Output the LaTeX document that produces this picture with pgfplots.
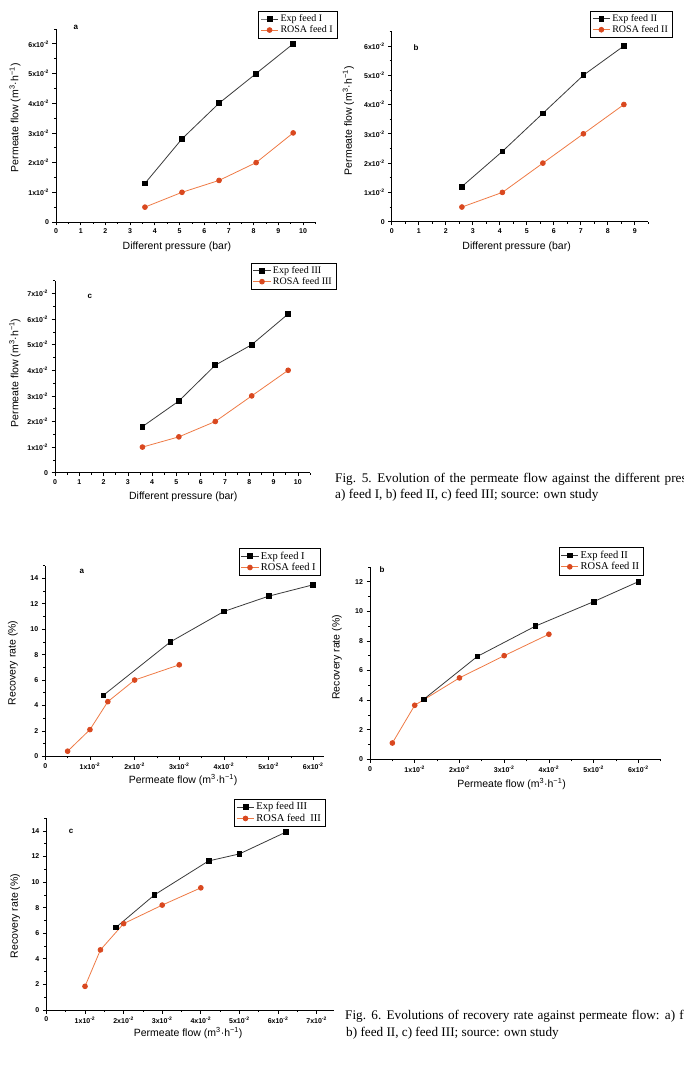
\documentclass[border=0pt]{standalone}
\usepackage{fontspec}
\setmainfont{Liberation Serif}
\setsansfont{Liberation Sans}
\usepackage{pgfplots}
\pgfplotsset{compat=1.18}

\definecolor{expline}{HTML}{3A3A3A}
\definecolor{rosaline}{HTML}{EE7A45}
\definecolor{rosamark}{HTML}{D9481F}

\newcommand{\sci}[1]{#1x10\textsuperscript{-2}}
\newcommand{\labelfont}{\fontsize{10.5}{12}\selectfont\sffamily}

\pgfplotsset{
  panel/.style={
    scale only axis, axis lines*=left, anchor=south west, clip=false,
    axis line style={line width=0.9pt, black},
    tick align=outside, tick style={black, line width=0.7pt},
    major tick length=3.5pt, minor tick length=2pt,
    tick label style={font=\fontsize{7}{8}\selectfont\sffamily\bfseries},
    /pgf/number format/assume math mode=true,
    every axis x label/.style={at={(axis description cs:0.5,-0.13)},anchor=center,font=\labelfont},
    every axis y label/.style={at={(axis description cs:-0.16,0.5)},anchor=center,rotate=90,font=\labelfont},
    legend style={draw=black, anchor=north east, inner xsep=2pt, inner ysep=1.5pt,
      row sep=-1.5pt, font=\fontsize{10}{11}\selectfont\rmfamily},
    legend cell align=left,
  },
  pressure/.style={
    xmin=0, ymin=0, xtick distance=1, minor x tick num=1,
    ytick distance=1, minor y tick num=1,
    yticklabels={\sci{0},0,\sci{1},\sci{2},\sci{3},\sci{4},\sci{5},\sci{6},\sci{7}},
    xlabel={Different pressure (bar)},
    ylabel={Permeate flow (m\textsuperscript{3}·h\textsuperscript{−1})},
  },
  flow/.style={
    xmin=0, ymin=0, xtick distance=1, minor x tick num=1,
    ytick distance=2, minor y tick num=1,
    xticklabels={\sci{0},0,\sci{1},\sci{2},\sci{3},\sci{4},\sci{5},\sci{6},\sci{7}},
    xlabel={Permeate flow (m\textsuperscript{3}·h\textsuperscript{−1})},
    ylabel={Recovery rate (\%)},
  },
  expser/.style={color=expline, line width=0.8pt, mark=square*, mark size=2.4pt,
    mark options={fill=black, draw=black}},
  rosaser/.style={color=rosaline, line width=0.8pt, mark=*, mark size=2.4pt,
    mark options={fill=rosamark, draw=rosamark}},
}
\newcommand{\panellabel}[1]{\fontsize{8}{9}\selectfont\sffamily\bfseries #1}

\begin{document}
\begin{tikzpicture}
\useasboundingbox (0pt,0pt) rectangle (684pt,1081pt);
\clip (0pt,0pt) rectangle (684pt,1081pt);

% ---- Fig. 5 a: permeate flow vs pressure, feed I
\begin{axis}[panel, pressure, at={(56pt,859pt)}, width=259.4pt, height=193pt,
  xmax=10.5, ymax=6.5,
  xlabel style={at={(axis description cs:0.466,-0.13)}},
  ylabel style={at={(axis description cs:-0.158,0.54)}},
  legend style={at={(axis description cs:1.083,1.093)}}]
\addplot[expser] coordinates {(3.6,1.3) (5.1,2.8) (6.6,4.0) (8.1,5.0) (9.6,6.0)};
\addlegendentry{Exp feed I}
\addplot[rosaser] coordinates {(3.6,0.5) (5.1,1.0) (6.6,1.4) (8.1,2.0) (9.6,3.0)};
\addlegendentry{ROSA feed I}
\node at (axis cs:0.8,6.56) {\panellabel{a}};
\end{axis}

% ---- Fig. 5 b: feed II
\begin{axis}[panel, pressure, at={(391.7pt,859.3pt)}, width=256.5pt, height=190.4pt,
  xmax=9.5, ymax=6.5,
  xlabel style={at={(axis description cs:0.487,-0.133)}},
  ylabel style={at={(axis description cs:-0.169,0.53)}},
  legend style={at={(axis description cs:1.093,1.108)}}]
\addplot[expser] coordinates {(2.6,1.2) (4.1,2.4) (5.6,3.7) (7.1,5.0) (8.6,6.0)};
\addlegendentry{Exp feed II}
\addplot[rosaser] coordinates {(2.6,0.5) (4.1,1.0) (5.6,2.0) (7.1,3.0) (8.6,4.0)};
\addlegendentry{ROSA feed II}
\node at (axis cs:0.9,5.93) {\panellabel{b}};
\end{axis}

% ---- Fig. 5 c: feed III
\begin{axis}[panel, pressure, at={(55pt,608.3pt)}, width=255pt, height=192pt,
  xmax=10.5, ymax=7.5,
  xlabel style={at={(axis description cs:0.503,-0.125)}},
  ylabel style={at={(axis description cs:-0.157,0.52)}},
  legend style={at={(axis description cs:1.102,1.094)}}]
\addplot[expser] coordinates {(3.6,1.8) (5.1,2.8) (6.6,4.2) (8.1,5.0) (9.6,6.2)};
\addlegendentry{Exp feed III}
\addplot[rosaser] coordinates {(3.6,1.0) (5.1,1.4) (6.6,2.0) (8.1,3.0) (9.6,4.0)};
\addlegendentry{ROSA feed III}
\node at (axis cs:1.44,6.87) {\panellabel{c}};
\end{axis}

% ---- Fig. 6 a: recovery rate vs permeate flow, feed I
\begin{axis}[panel, flow, at={(45.3pt,324.7pt)}, width=279.1pt, height=190.6pt,
  xmax=6.25, ymax=15,
  xlabel style={at={(axis description cs:0.494,-0.124)}},
  ylabel style={at={(axis description cs:-0.116,0.49)}},
  legend style={at={(axis description cs:0.984,1.093)}, font=\fontsize{10.5}{11.5}\selectfont\rmfamily}]
\addplot[expser] coordinates {(1.3,4.8) (2.8,9.0) (4.0,11.4) (5.0,12.6) (6.0,13.5)};
\addlegendentry{Exp feed I}
\addplot[rosaser] coordinates {(0.5,0.4) (1.0,2.1) (1.4,4.3) (2.0,6.0) (3.0,7.2)};
\addlegendentry{ROSA feed I}
\node at (axis cs:0.82,14.58) {\panellabel{a}};
\end{axis}

% ---- Fig. 6 b: feed II
\begin{axis}[panel, flow, at={(370pt,321.7pt)}, width=290.7pt, height=192.4pt,
  xmax=6.5, ymax=13,
  xlabel style={at={(axis description cs:0.487,-0.128)}},
  ylabel style={at={(axis description cs:-0.114,0.53)}},
  legend style={at={(axis description cs:0.94,1.102)}, font=\fontsize{10.5}{11.5}\selectfont\rmfamily}]
\addplot[expser] coordinates {(1.2,4.05) (2.4,6.95) (3.7,9.0) (5.0,10.65) (6.0,12.0)};
\addlegendentry{Exp feed II}
\addplot[rosaser] coordinates {(0.5,1.1) (1.0,3.65) (2.0,5.5) (3.0,7.0) (4.0,8.45)};
\addlegendentry{ROSA feed II}
\node at (axis cs:0.27,12.8) {\panellabel{b}};
\end{axis}

% ---- Fig. 6 c: feed III
\begin{axis}[panel, flow, at={(46.4pt,71pt)}, width=287.6pt, height=191.9pt,
  xmax=7.45, ymax=15,
  xlabel style={at={(axis description cs:0.493,-0.121)}},
  ylabel style={at={(axis description cs:-0.109,0.49)}},
  legend style={at={(axis description cs:0.969,1.10)}, font=\fontsize{10.5}{11.5}\selectfont\rmfamily}]
\addplot[expser] coordinates {(1.8,6.45) (2.8,9.0) (4.2,11.65) (5.0,12.2) (6.2,13.9)};
\addlegendentry{Exp feed III}
\addplot[rosaser] coordinates {(1.0,1.85) (1.4,4.7) (2.0,6.75) (3.0,8.2) (4.0,9.55)};
\addlegendentry{ROSA feed\ \ III}
\node at (axis cs:0.64,13.94) {\panellabel{c}};
\end{axis}

% ---- captions (first lines are justified, so their word spaces are wider)
\begin{scope}[every node/.style={anchor=base west, inner sep=0pt,
    font=\fontsize{13.2}{15.5}\selectfont\rmfamily}]
\node at (335pt,598pt) {\spaceskip=4.6pt Fig. 5. Evolution of the permeate flow against the different pressures:};
\node at (335pt,582pt) {a) feed I, b) feed II, c) feed III; source: own study};
\node at (345pt,61pt) {\spaceskip=4.2pt Fig. 6. Evolutions of recovery rate against permeate flow: a) feed I,};
\node at (346pt,44.5pt) {b) feed II, c) feed III; source: own study};
\end{scope}
\end{tikzpicture}
\end{document}
